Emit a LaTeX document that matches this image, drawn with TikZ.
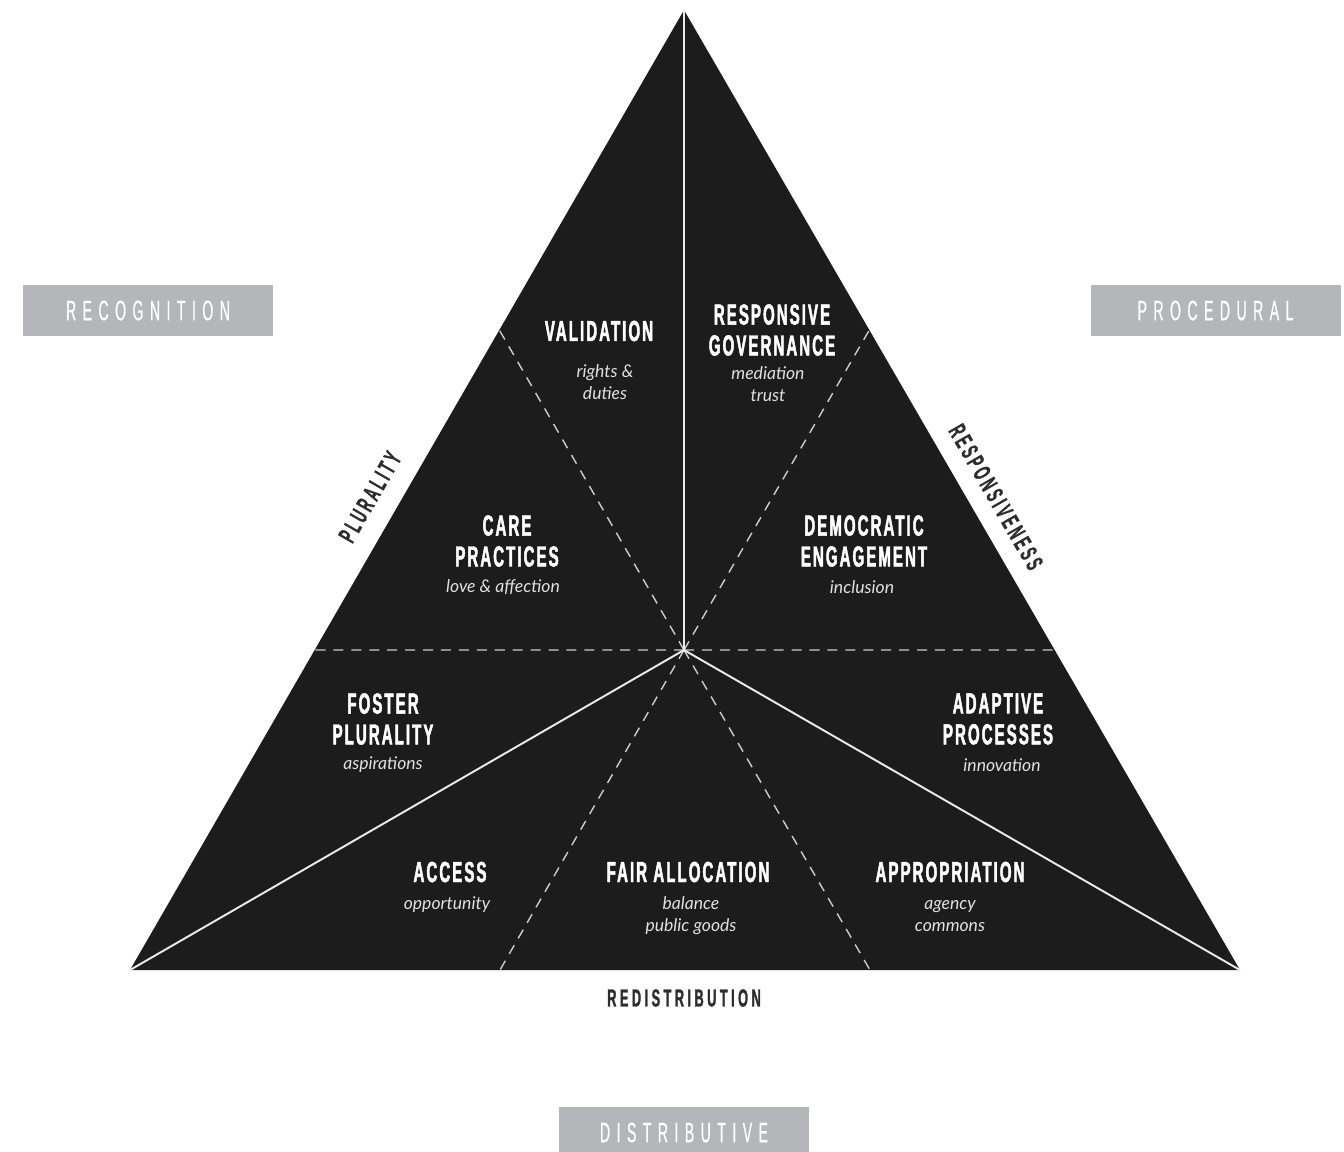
\documentclass[tikz,border=0pt]{standalone}
\usepackage{fontspec}
\usepackage{xcolor}
\usepackage{tikz}
\usetikzlibrary{calc}

\newfontfamily\headfont[FakeStretch=0.52,LetterSpace=7,FakeBold=1.6]{Liberation Sans}
\newfontfamily\edgefont[FakeStretch=0.52,LetterSpace=14,FakeBold=1.2]{Liberation Sans}
\newfontfamily\pillfont[FakeStretch=0.5,LetterSpace=23,FakeBold=0.6]{Liberation Sans}
\newfontfamily\subfont{Lato}

\definecolor{trifill}{RGB}{28,28,28}
\definecolor{pillgray}{RGB}{180,182,185}
\definecolor{edgegray}{RGB}{45,45,45}

\tikzset{
    sechead/.style={font=\headfont\bfseries\fontsize{16.5}{17.6}\selectfont,
        text=white, align=center, inner sep=0pt},
    subtext/.style={font=\subfont\itshape\fontsize{10}{12.5}\selectfont,
        text=white!88!black, align=center, inner sep=0pt},
    edgelabel/.style={font=\edgefont\bfseries\fontsize{14}{14}\selectfont,
        text=edgegray, inner sep=0pt},
    pill/.style={fill=pillgray, minimum width=5cm, minimum height=1.02cm,
        inner sep=0pt, text=white, font=\pillfont\fontsize{16}{16}\selectfont},
    spoke/.style={white!92!black, line width=1.1pt},
    trisect/.style={white!80!black, line width=0.8pt, dash pattern=on 5.7pt off 4.5pt}
}

\begin{document}
\begin{tikzpicture}[x=0.2mm,y=-0.2mm]
    \useasboundingbox (0,0) rectangle (1344,1151);

    % triangle and its corners
    \coordinate (top) at (684,10);
    \coordinate (left) at (130,970);
    \coordinate (right) at (1240,970);
    \coordinate (mid) at (684,650);
    \fill[trifill] (top) -- (left) -- (right) -- cycle;

    % points that cut each side in thirds
    \coordinate (ul) at ($(top)!1/3!(left)$);
    \coordinate (ml) at ($(top)!2/3!(left)$);
    \coordinate (ur) at ($(top)!1/3!(right)$);
    \coordinate (mr) at ($(top)!2/3!(right)$);
    \coordinate (bl) at ($(left)!1/3!(right)$);
    \coordinate (br) at ($(left)!2/3!(right)$);

    \foreach \p in {ul,ml,ur,mr,bl,br}
        \draw[trisect] (mid) -- (\p);
    \foreach \p in {top,left,right}
        \draw[spoke] (mid) -- (\p);

    % sectors
    \node[sechead] (validation) at (599,331) {VALIDATION};
    \node[subtext] (rights) at (605,382) {rights \&\\duties};

    \node[sechead] (governance) at (772,330) {RESPONSIVE\\GOVERNANCE};
    \node[subtext] (mediation) at (768,384) {mediation\\trust};

    \node[sechead] (care) at (507,541) {CARE\\PRACTICES};
    \node[subtext] (love) at (503,587) {love \& affection};

    \node[sechead] (democratic) at (864,541) {DEMOCRATIC\\ENGAGEMENT};
    \node[subtext] (inclusion) at (862,587) {inclusion};

    \node[sechead] (foster) at (383,719) {FOSTER\\PLURALITY};
    \node[subtext] (aspirations) at (383,765) {aspirations};

    \node[sechead] (adaptive) at (998,719) {ADAPTIVE\\PROCESSES};
    \node[subtext] (innovation) at (1002,765) {innovation};

    \node[sechead] (access) at (450,872) {ACCESS};
    \node[subtext] (opportunity) at (447,905) {opportunity};

    \node[sechead] (fair) at (688,872) {FAIR ALLOCATION};
    \node[subtext] (balance) at (691,916) {balance\\public goods};

    \node[sechead] (appropriation) at (950,872) {APPROPRIATION};
    \node[subtext] (agency) at (950,916) {agency\\commons};

    % side labels
    \node[edgelabel, rotate=60] (plurality) at (370,497) {PLURALITY};
    \node[edgelabel, rotate=-60] (responsiveness) at (996,497) {RESPONSIVENESS};
    \node[edgelabel] (redistribution) at (684,998) {REDISTRIBUTION};

    % justice boxes
    \node[pill] (recognition) at (148,310.5) {RECOGNITION};
    \node[pill] (procedural) at (1215.5,310.5) {PROCEDURAL};
    \node[pill] (distributive) at (684,1132.5) {DISTRIBUTIVE};
\end{tikzpicture}
\end{document}
